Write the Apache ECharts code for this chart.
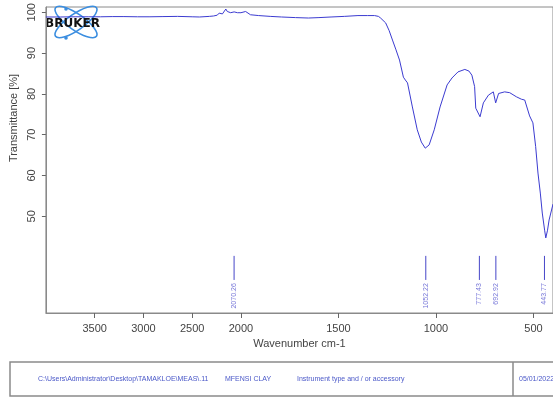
<!DOCTYPE html>
<html><head><meta charset="utf-8">
<script src="https://cdn.jsdelivr.net/npm/echarts@6/dist/echarts.min.js"></script>
<style>html,body{margin:0;padding:0;background:#fff}#c{width:553px;height:406px}</style>
</head><body><div id="c"></div>
<script>
// Spectrum (wavenumber cm-1, transmittance %)
const wavenumbers = [4000,3850,3700,3560,3440,3320,3200,3060,2933,2800,2649,2500,2426,2324,2280,2243,2223,2205,2190,2170,2155,2140,2122,2105,2090,2070,2054,2035,2020,2000,1976,1951,1909,1850,1792,1720,1654,1600,1538,1470,1400,1350,1315,1295,1284,1258,1240,1223,1205,1187,1167,1157,1146,1121,1096,1075,1055,1045,1035,1009,979,943,918,887,852,831,816,802,796,786,774,757,731,706,694,679,648,622,588,562,545,520,503,489,477,465,455,443,437,428,420,400];
const transmittance = [98.85,98.85,98.9,98.9,98.9,98.95,98.95,98.9,98.9,98.95,99.0,98.9,98.85,99.0,99.1,99.3,99.8,99.5,99.6,99.9,100.8,100.2,99.8,99.9,100.0,100.1,100.2,99.9,99.8,99.9,100.2,99.4,99.2,99.0,98.85,98.7,98.6,98.7,98.85,99.0,99.2,99.2,99.2,99.0,98.6,97.4,95.5,93.2,90.8,88.3,84.1,83.4,82.7,76.8,71.2,68.2,66.7,66.8,67.5,71.2,76.8,82.2,83.9,85.4,86.0,85.6,84.6,81.8,76.5,76.1,74.4,77.8,79.7,80.5,77.8,80.1,80.5,80.3,79.3,78.7,78.5,74.6,72.9,67.1,60.6,55.7,50.8,46.6,44.7,46.6,49.1,53.0];
// Peak picks
const peakWavenumbers = [2070.26,1052.22,777.43,692.92,443.77];
const peakLabels = ['2070.26','1052.22','777.43','692.92','443.77'];
// Ticks
const xTickValues = [3500,3000,2500,2000,1500,1000,500];
const yTickValues = [50,60,70,80,90,100];
// Footer
const footerPath = 'C:\\Users\\Administrator\\Desktop\\TAMAKLOE\\MEAS\\.11';
const footerSample = 'MFENSI CLAY';
const footerInstrument = 'Instrument type and / or accessory';
const footerDate = '05/01/2022';

// OPUS split scale: above 2000 cm-1 compressed by 2
function toAxis(w){ return w <= 2000 ? w : 2000 + (w - 2000) / 2; }
function fromAxis(u){ return u <= 2000 ? u : 2000 + (u - 2000) * 2; }

const PEAK_TOP = 40.3, PEAK_BOTTOM = 34.4, PEAK_LABEL = 33.6;
const FONT = '"Liberation Sans", Arial, sans-serif';

const chart = echarts.init(document.getElementById('c'), null, {renderer:'canvas'});
chart.setOption({
  animation: false,
  backgroundColor: '#fff',
  grid: {left:45, right:-4, top:7, bottom:93, show:true, borderColor:'#8a8a8a', borderWidth:1, containLabel:false},
  xAxis: {
    type:'value', min:toAxis(400), max:toAxis(4000), inverse:true,
    splitLine:{show:false},
    axisLine:{show:true, lineStyle:{color:'#8a8a8a', width:1}},
    axisTick:{show:true, length:5, customValues:xTickValues.map(toAxis), lineStyle:{color:'#666'}},
    axisLabel:{customValues:xTickValues.map(toAxis), formatter:v => String(Math.round(fromAxis(v))), color:'#444', fontSize:11, fontFamily:FONT, margin:10},
    name:'Wavenumber cm-1', nameLocation:'middle', nameGap:25,
    nameTextStyle:{color:'#444', fontSize:11, fontFamily:FONT}
  },
  yAxis: {
    type:'value', min:26.3, max:101.3,
    splitLine:{show:false},
    axisLine:{show:true, lineStyle:{color:'#8a8a8a', width:1}},
    axisTick:{show:true, length:4, customValues:yTickValues, lineStyle:{color:'#666'}},
    axisLabel:{customValues:yTickValues, rotate:90, color:'#444', fontSize:11, fontFamily:FONT, margin:8},
    name:'Transmittance [%]', nameLocation:'middle', nameGap:26, nameRotate:90,
    nameTextStyle:{color:'#444', fontSize:11, fontFamily:FONT, padding:[0,0,0,84]}
  },
  series: [
    {type:'line', data:wavenumbers.map((w,i)=>[toAxis(w), transmittance[i]]), showSymbol:false, smooth:false,
     lineStyle:{color:'#3b3bd0', width:1}, z:2},
    {type:'custom', clip:false, data:peakWavenumbers.map((w,i)=>[toAxis(w), i]),
     renderItem:(params, api) => {
       const x = api.value(0), idx = api.value(1);
       const a = api.coord([x, PEAK_TOP]), b = api.coord([x, PEAK_BOTTOM]), t = api.coord([x, PEAK_LABEL]);
       return {type:'group', children:[
         {type:'line', shape:{x1:a[0], y1:a[1], x2:b[0], y2:b[1]}, style:{stroke:'#4646c8', lineWidth:1}},
         {type:'text', x:t[0], y:t[1], rotation:Math.PI/2,
          style:{text:peakLabels[idx], fill:'#7676d8', font:'7px ' + FONT, align:'right', verticalAlign:'middle'}}
       ]};
     }, z:3}
  ],
  graphic: [
    {type:'group', x:76, y:22, z:100, children:[
      {type:'ellipse', shape:{cx:0, cy:0, rx:25, ry:8}, rotation:0.61, style:{fill:null, stroke:'#3b8ee0', lineWidth:1.6}},
      {type:'ellipse', shape:{cx:0, cy:0, rx:25, ry:8}, rotation:-0.61, style:{fill:null, stroke:'#3b8ee0', lineWidth:1.6}},
      {type:'circle', shape:{cx:-10, cy:-13, r:1.8}, style:{fill:'#3b8ee0'}},
      {type:'circle', shape:{cx:-10, cy:16, r:1.8}, style:{fill:'#3b8ee0'}},
      {type:'text', x:-31, y:2, style:{text:'BRUKER', font:'bold 12px "DejaVu Sans"', fill:'#111', verticalAlign:'middle'}}
    ]},
    {type:'rect', z:100, shape:{x:10, y:362, width:620, height:34}, style:{fill:null, stroke:'#8a8a8a', lineWidth:1.5}},
    {type:'line', z:100, shape:{x1:513, y1:362, x2:513, y2:396}, style:{stroke:'#8a8a8a', lineWidth:1.5}},
    {type:'text', z:100, x:38, y:379, style:{text:footerPath, font:'7px ' + FONT, fill:'#4a58c8', verticalAlign:'middle'}},
    {type:'text', z:100, x:225, y:379, style:{text:footerSample, font:'7px ' + FONT, fill:'#4a58c8', verticalAlign:'middle'}},
    {type:'text', z:100, x:297, y:379, style:{text:footerInstrument, font:'7px ' + FONT, fill:'#4a58c8', verticalAlign:'middle'}},
    {type:'text', z:100, x:519, y:379, style:{text:footerDate, font:'7px ' + FONT, fill:'#4a58c8', verticalAlign:'middle'}}
  ]
});
</script></body></html>
